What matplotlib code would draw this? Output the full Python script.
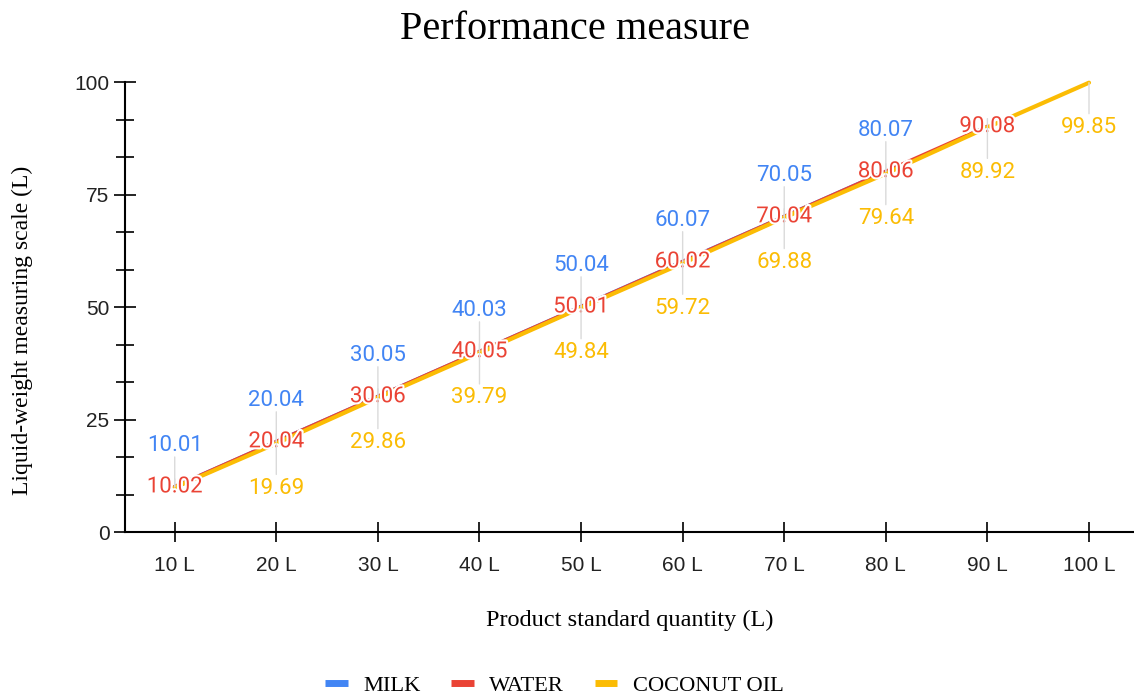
import numpy as np
import matplotlib
matplotlib.use("Agg")
import matplotlib.pyplot as plt
import matplotlib.patheffects as pe
from matplotlib.lines import Line2D
from matplotlib.ticker import MultipleLocator

BLUE = '#4285f4'
RED = '#ea4335'
YELLOW = '#fbbc04'
STEM = '#dadada'

quantities = [10, 20, 30, 40, 50, 60, 70, 80, 90, 100]
tick_labels = ['10 L', '20 L', '30 L', '40 L', '50 L', '60 L', '70 L', '80 L', '90 L', '100 L']

milk = [10.01, 20.04, 30.05, 40.03, 50.04, 60.07, 70.05, 80.07, np.nan, np.nan]
water = [10.02, 20.04, 30.06, 40.05, 50.01, 60.02, 70.04, 80.06, 90.08, np.nan]
coconut = [9.9, 19.69, 29.86, 39.79, 49.84, 59.72, 69.88, 79.64, 89.92, 99.85]
# coconut label at 10 L is hidden in the original (overlaps)
coconut_shown = [False, True, True, True, True, True, True, True, True, True]

fig = plt.figure(figsize=(11.34, 6.95), dpi=100)
ax = fig.add_axes([0.110, 0.2345, 0.890, 0.6475])

ax.plot(quantities, milk, color=BLUE, lw=3, solid_capstyle='round', zorder=2, clip_on=False)
ax.plot(quantities, water, color=RED, lw=3, solid_capstyle='round', zorder=2, clip_on=False)
ax.plot(quantities, coconut, color=YELLOW, lw=3, solid_capstyle='round', zorder=2, clip_on=False)

label_font = dict(family=['Roboto', 'DejaVu Sans'], fontsize=16)
stem = dict(arrowstyle='-', color=STEM, lw=1, shrinkA=0, shrinkB=0)

for x, y in zip(quantities, milk):
    if np.isnan(y):
        continue
    ax.annotate('', xy=(x, y), xytext=(0, 30), textcoords='offset pixels',
                arrowprops=stem, zorder=5, annotation_clip=False)
    ax.annotate(f'{y:.2f}', xy=(x, y), xytext=(0, 41), textcoords='offset pixels',
                ha='center', va='center', color=BLUE, zorder=4,
                annotation_clip=False, **label_font)

for x, y, show in zip(quantities, coconut, coconut_shown):
    if not show:
        continue
    ax.annotate('', xy=(x, y), xytext=(0, -31), textcoords='offset pixels',
                arrowprops=stem, zorder=5, annotation_clip=False)
    ax.annotate(f'{y:.2f}', xy=(x, y), xytext=(0, -45), textcoords='offset pixels',
                ha='center', va='center', color=YELLOW, zorder=4,
                annotation_clip=False, **label_font)

for x, y in zip(quantities, water):
    if np.isnan(y):
        continue
    ax.annotate(f'{y:.2f}', xy=(x, y), xytext=(0, 0), textcoords='offset pixels',
                ha='center', va='center', color=RED, zorder=4, annotation_clip=False,
                path_effects=[pe.withStroke(linewidth=3, foreground='white')],
                **label_font)
    ax.annotate('', xy=(x, y), xytext=(0, 8), textcoords='offset pixels',
                arrowprops=stem, zorder=6, annotation_clip=False)

ax.set_xlim(5.08, 104.43)
ax.set_ylim(0, 100)
ax.set_xticks(quantities)
ax.set_xticklabels(tick_labels)
ax.yaxis.set_major_locator(MultipleLocator(25))
ax.yaxis.set_minor_locator(MultipleLocator(25 / 3))

for s in ['top', 'right']:
    ax.spines[s].set_visible(False)
for s in ['left', 'bottom']:
    ax.spines[s].set_linewidth(1.5)
    ax.spines[s].set_color('black')

ax.tick_params(axis='x', direction='inout', length=15, width=1.2, pad=10,
               labelsize=15)
ax.tick_params(axis='y', which='major', direction='inout', length=16, width=1.2,
               pad=3, labelsize=15)
ax.tick_params(axis='y', which='minor', direction='inout', length=13, width=1.2)
for lab in ax.get_xticklabels() + ax.get_yticklabels():
    lab.set_family(['Liberation Sans', 'DejaVu Sans'])
    lab.set_color('#222222')

serif = ['Liberation Serif', 'DejaVu Serif']
fig.text(0.507, 0.958, 'Performance measure', ha='center', va='center',
         family=serif, fontsize=29)
ax.set_xlabel('Product standard quantity (L)', family=serif, fontsize=17.5, labelpad=25)
ax.set_ylabel('Liquid-weight measuring scale (L)', family=serif, fontsize=17)
ax.yaxis.set_label_coords(-0.101, 0.447)
ax.yaxis.label.set_va('center')

handles = [Line2D([], [], color=c, lw=5, solid_capstyle='butt') for c in [BLUE, RED, YELLOW]]
fig.legend(handles, ['MILK', 'WATER', 'COCONUT OIL'], loc='center',
           bbox_to_anchor=(0.489, 0.014), ncol=3, frameon=False,
           handlelength=1.0, columnspacing=1.35, handletextpad=0.7,
           prop={'family': serif, 'size': 16.2})

fig.savefig('out.png', dpi=100)
